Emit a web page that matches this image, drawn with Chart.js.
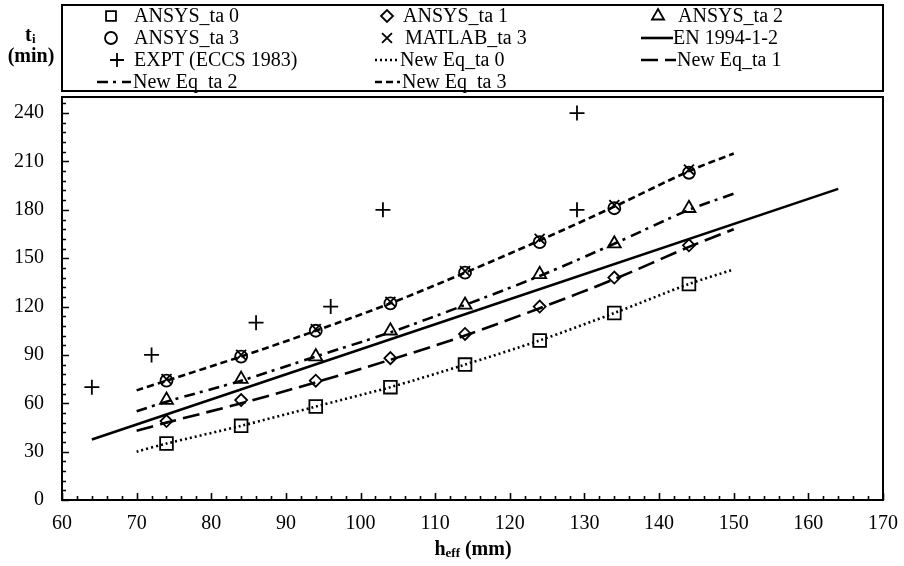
<!DOCTYPE html>
<html>
<head>
<meta charset="utf-8">
<script src="https://cdn.jsdelivr.net/npm/chart.js@4.4.0/dist/chart.umd.min.js"></script>
<style>
  html, body { margin: 0; padding: 0; background: #fff; }
  canvas { display: block; }
</style>
</head>
<body>
<canvas id="chart" width="904" height="566"></canvas>
<script>
// h_eff (mm) for the ANSYS / MATLAB points
const hAnsys = [74, 84, 94, 104, 114, 124, 134, 144];
const ansysTa0 = [35, 46, 58, 70, 84, 99, 116, 134];
const ansysTa1 = [49, 62, 74, 88, 103, 120, 138, 158];
const ansysTa2 = [62, 75, 89, 105, 121, 140, 159, 181];
const ansysTa3 = [74, 89, 105, 122, 141, 160, 181, 203];
const matlabTa3 = [75, 90, 106, 123, 142, 162, 183, 205];

// test results
const hExpt = [64, 72, 86, 96, 103, 129, 129];
const tExpt = [70, 90, 110, 120, 180, 180, 240];

// EN 1994-1-2 line
const hEn = [64, 164];
const tEn = [37.5, 193];

// proposed equation curves
const hNewEq = [70, 74, 84, 94, 104, 114, 124, 134, 144, 150];
const newEqTa0 = [30, 35, 46, 58, 70, 84, 99, 116, 134, 143];
const newEqTa1 = [43, 48, 60, 73, 87, 102, 119, 137, 157, 168];
const newEqTa2 = [55, 61, 74, 89, 104, 121, 139, 159, 180, 190];
const newEqTa3 = [68, 74, 89, 105, 122, 141, 161, 182, 204, 215];

const xTicks = [60, 70, 80, 90, 100, 110, 120, 130, 140, 150, 160, 170];
const yTicks = [0, 30, 60, 90, 120, 150, 180, 210, 240];

const FONT = "'Liberation Serif', 'Times New Roman', serif";

function pts(xs, ys) {
  return xs.map((x, i) => ({ x: x, y: ys[i] }));
}

function markerSet(label, xs, ys, style, radius) {
  return {
    label: label,
    data: pts(xs, ys),
    showLine: false,
    pointStyle: style,
    pointRadius: radius,
    pointBorderWidth: 1.8,
    borderColor: "#000",
    backgroundColor: "rgba(0,0,0,0)",
    order: 0
  };
}

function lineSet(label, xs, ys, dash) {
  return {
    label: label,
    data: pts(xs, ys),
    showLine: true,
    pointRadius: 0,
    borderColor: "#000",
    borderWidth: 2.6,
    borderDash: dash,
    tension: 0.3,
    order: 1
  };
}

const datasets = [
  markerSet("ANSYS_ta 0", hAnsys, ansysTa0, "rect", 9),
  markerSet("ANSYS_ta 1", hAnsys, ansysTa1, "rectRot", 6),
  markerSet("ANSYS_ta 2", hAnsys, ansysTa2, "triangle", 7.5),
  markerSet("ANSYS_ta 3", hAnsys, ansysTa3, "circle", 6),
  markerSet("MATLAB_ta 3", hAnsys, matlabTa3, "crossRot", 7),
  lineSet("EN 1994-1-2", hEn, tEn, []),
  markerSet("EXPT (ECCS 1983)", hExpt, tExpt, "cross", 7.5),
  lineSet("New Eq_ta 0", hNewEq, newEqTa0, [2, 3]),
  lineSet("New Eq_ta 1", hNewEq, newEqTa1, [17, 7]),
  lineSet("New Eq_ta 2", hNewEq, newEqTa2, [11, 5, 3, 6]),
  lineSet("New Eq_ta 3", hNewEq, newEqTa3, [7, 4])
];

// legend slots: dataset index, marker/line x, text x, row y
const legendSlots = [
  { i: 0, mx: 111, tx: 134, y: 16 },
  { i: 1, mx: 387, tx: 403, y: 16 },
  { i: 2, mx: 658, tx: 678, y: 16 },
  { i: 3, mx: 111, tx: 134, y: 38 },
  { i: 4, mx: 387, tx: 405, y: 38 },
  { i: 5, lx: [641, 673], tx: 673, y: 38 },
  { i: 6, mx: 117, tx: 134, y: 60 },
  { i: 7, lx: [375, 398], tx: 400, y: 60 },
  { i: 8, lx: [641, 676], tx: 677, y: 60 },
  { i: 9, lx: [97, 131], tx: 133, y: 82 },
  { i: 10, lx: [375, 400], tx: 402, y: 82 }
];

const framePlugin = {
  id: "frame",
  afterDraw(chart) {
    const ctx = chart.ctx;
    const a = chart.chartArea;
    const xs = chart.scales.x;
    const ys = chart.scales.y;
    ctx.save();
    ctx.strokeStyle = "#000";

    // plot box
    ctx.lineWidth = 2;
    ctx.strokeRect(a.left, a.top, a.right - a.left, a.bottom - a.top);

    // inner tick marks
    ctx.lineWidth = 1.6;
    ctx.beginPath();
    for (let v = 60; v <= 170; v += 2) {
      const px = Math.round(xs.getPixelForValue(v)) + 0.5;
      const len = v % 10 === 0 ? 7 : 4;
      ctx.moveTo(px, a.bottom);
      ctx.lineTo(px, a.bottom - len);
    }
    for (let v = 0; v <= 246; v += 6) {
      const py = Math.round(ys.getPixelForValue(v)) + 0.5;
      const len = v % 30 === 0 ? 7 : 4;
      ctx.moveTo(a.left, py);
      ctx.lineTo(a.left + len, py);
    }
    ctx.stroke();

    // legend box
    ctx.lineWidth = 2;
    ctx.strokeRect(a.left, 5, a.right - a.left, 86);

    ctx.fillStyle = "#000";
    ctx.textBaseline = "middle";
    ctx.font = "20px " + FONT;
    legendSlots.forEach((s) => {
      const ds = chart.data.datasets[s.i];
      if (s.lx) {
        ctx.save();
        ctx.lineWidth = ds.borderWidth;
        ctx.setLineDash(ds.borderDash);
        ctx.beginPath();
        ctx.moveTo(s.lx[0], s.y);
        ctx.lineTo(s.lx[1], s.y);
        ctx.stroke();
        ctx.restore();
      } else {
        ctx.save();
        ctx.lineWidth = ds.pointBorderWidth;
        ctx.fillStyle = "rgba(0,0,0,0)";
        Chart.helpers.drawPoint(ctx, {
          pointStyle: ds.pointStyle,
          radius: Math.min(ds.pointRadius, 7),
          rotation: 0,
          borderWidth: ds.pointBorderWidth
        }, s.mx, s.y);
        ctx.restore();
      }
      ctx.textAlign = "left";
      ctx.fillText(ds.label, s.tx, s.y + 1);
    });

    // y title
    ctx.font = "bold 20px " + FONT;
    ctx.textAlign = "left";
    ctx.fillText("t", 25, 36);
    ctx.font = "bold 13px " + FONT;
    ctx.fillText("i", 32, 40);
    ctx.font = "bold 20px " + FONT;
    ctx.textAlign = "center";
    ctx.fillText("(min)", 31, 57);

    // x title
    ctx.textAlign = "left";
    const big = "bold 20px " + FONT;
    const small = "bold 13px " + FONT;
    ctx.font = big;
    const w1 = ctx.measureText("h").width;
    const w3 = ctx.measureText(" (mm)").width;
    ctx.font = small;
    const w2 = ctx.measureText("eff").width;
    let x0 = 473 - (w1 + w2 + w3) / 2;
    ctx.font = big;
    ctx.fillText("h", x0, 550);
    ctx.font = small;
    ctx.fillText("eff", x0 + w1, 554);
    ctx.font = big;
    ctx.fillText(" (mm)", x0 + w1 + w2, 550);

    ctx.restore();
  }
};

new Chart(document.getElementById("chart"), {
  type: "scatter",
  data: { datasets: datasets },
  options: {
    responsive: false,
    animation: false,
    devicePixelRatio: 1,
    layout: { padding: { left: 0, top: 97, right: 21, bottom: 0 } },
    plugins: {
      legend: { display: false },
      tooltip: { enabled: false }
    },
    scales: {
      x: {
        type: "linear",
        min: 60,
        max: 170,
        grid: { display: false, drawTicks: false },
        border: { display: false },
        afterBuildTicks: (scale) => { scale.ticks = xTicks.map(v => ({ value: v })); },
        afterFit: (scale) => {
          scale.height = 66;
          scale.paddingLeft = 0;
          scale.paddingRight = 0;
        },
        ticks: {
          color: "#000",
          padding: 12,
          maxRotation: 0,
          font: { family: FONT, size: 20 }
        }
      },
      y: {
        type: "linear",
        min: 0,
        max: 250,
        grid: { display: false, drawTicks: false },
        border: { display: false },
        afterBuildTicks: (scale) => { scale.ticks = yTicks.map(v => ({ value: v })); },
        afterFit: (scale) => {
          scale.width = 62;
          scale.paddingTop = 0;
          scale.paddingBottom = 0;
        },
        ticks: {
          color: "#000",
          padding: 18,
          font: { family: FONT, size: 20 }
        }
      }
    }
  },
  plugins: [framePlugin]
});
</script>
</body>
</html>
